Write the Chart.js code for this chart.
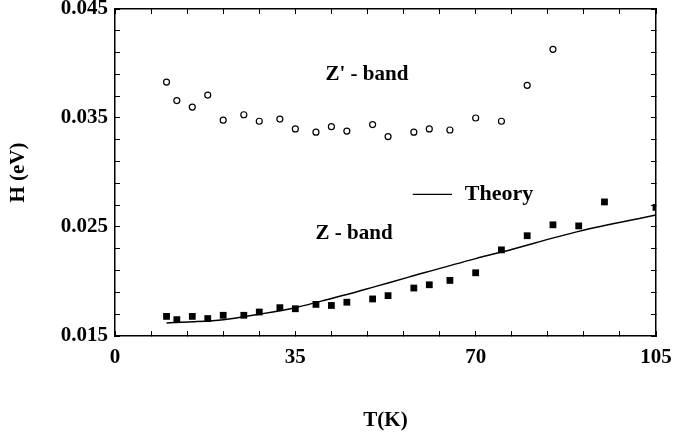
<!DOCTYPE html>
<html>
<head>
<meta charset="utf-8">
<script src="https://cdn.jsdelivr.net/npm/chart.js@4/dist/chart.umd.min.js"></script>
<style>
  html, body { margin: 0; padding: 0; background: #fff; }
  #wrap { width: 673px; height: 435px; position: relative; }
</style>
</head>
<body>
<div id="wrap"><canvas id="c" width="673" height="435"></canvas></div>
<script>
// ---- data ----
const zPrimeT = [10, 12, 15, 18, 21, 25, 28, 32, 35, 39, 42, 45, 50, 53, 58, 61, 65, 70, 75, 80, 85];
const zPrimeH = [0.0383, 0.0366, 0.0360, 0.0371, 0.0348, 0.0353, 0.0347, 0.0349, 0.0340, 0.0337, 0.0342,
                 0.0338, 0.0344, 0.0333, 0.0337, 0.0340, 0.0339, 0.0350, 0.0347, 0.0380, 0.0413];

const zT = [10, 12, 15, 18, 21, 25, 28, 32, 35, 39, 42, 45, 50, 53, 58, 61, 65, 70, 75, 80, 85, 90, 95, 105];
const zH = [0.0168, 0.0165, 0.0168, 0.0166, 0.0169, 0.0169, 0.0172, 0.0176, 0.0175, 0.0179, 0.0178, 0.0181,
            0.0184, 0.0187, 0.0194, 0.0197, 0.0201, 0.0208, 0.0229, 0.0242, 0.0252, 0.0251, 0.0273, 0.0268];

const theoryT = [10, 15, 21, 28, 35, 40, 45, 51, 57, 70, 75, 90, 105];
const theoryH = [0.0162, 0.0163, 0.0165, 0.0170, 0.0176, 0.0182, 0.0188, 0.0196, 0.0204, 0.0221, 0.0227, 0.0246, 0.0261];

const xLabelValues = [0, 35, 70, 105];
const yLabelValues = [0.015, 0.025, 0.035, 0.045];

const textZPrime = "Z' - band";
const textZ = "Z - band";
const textTheory = "Theory";
const xTitle = "T(K)";
const yTitle = "H (eV)";

// ---- chart ----
const FONT = "'Liberation Serif', 'Times New Roman', serif";
const toXY = (xs, ys) => xs.map((x, i) => ({ x: x, y: ys[i] }));

const annotations = {
  id: 'annotations',
  afterDatasetsDraw(chart) {
    const ctx = chart.ctx, xs = chart.scales.x, ys = chart.scales.y;
    ctx.save();
    ctx.fillStyle = '#000';
    ctx.strokeStyle = '#000';
    ctx.font = "bold 21px " + FONT;
    ctx.textBaseline = 'middle';
    ctx.textAlign = 'center';
    ctx.fillText(textZPrime, xs.getPixelForValue(48.9), ys.getPixelForValue(0.0390));
    ctx.fillText(textZ, xs.getPixelForValue(46.4), ys.getPixelForValue(0.0244));
    // theory legend
    ctx.lineWidth = 1.3;
    ctx.beginPath();
    const ly = ys.getPixelForValue(0.0280);
    ctx.moveTo(xs.getPixelForValue(57.8), ly);
    ctx.lineTo(xs.getPixelForValue(65.4), ly);
    ctx.stroke();
    ctx.textAlign = 'left';
    ctx.font = "bold 22px " + FONT;
    ctx.fillText(textTheory, xs.getPixelForValue(67.9), ly);
    ctx.restore();
  }
};

const tickFont = { family: FONT, size: 21, weight: 'bold' };
const titleFont = { family: FONT, size: 21, weight: 'bold' };
const noPad = s => { s.paddingTop = 0; s.paddingBottom = 0; s.paddingLeft = 0; s.paddingRight = 0; };

new Chart(document.getElementById('c'), {
  type: 'scatter',
  data: {
    datasets: [
      {
        label: 'Theory',
        data: toXY(theoryT, theoryH),
        showLine: true,
        borderColor: '#000',
        borderWidth: 1.5,
        pointRadius: 0,
        cubicInterpolationMode: 'monotone',
        fill: false
      },
      {
        label: "Z' - band",
        data: toXY(zPrimeT, zPrimeH),
        showLine: false,
        pointStyle: 'circle',
        pointRadius: 3,
        pointBorderWidth: 1.2,
        pointBorderColor: '#000',
        pointBackgroundColor: '#fff'
      },
      {
        label: 'Z - band',
        data: toXY(zT, zH),
        showLine: false,
        pointStyle: 'rect',
        pointRadius: 4.8,
        pointBorderWidth: 0,
        pointBorderColor: '#000',
        pointBackgroundColor: '#000'
      }
    ]
  },
  options: {
    responsive: false,
    animation: false,
    layout: { padding: { top: 9, right: 17, left: 0, bottom: 0 } },
    plugins: { legend: { display: false }, tooltip: { enabled: false } },
    scales: {
      x: {
        type: 'linear', position: 'bottom', min: 0, max: 105,
        ticks: {
          stepSize: 7, autoSkip: false, maxRotation: 0, color: '#000', font: tickFont, padding: 14,
          callback: v => xLabelValues.some(l => Math.abs(l - v) < 1e-9) ? String(v) : ''
        },
        grid: { display: true, drawOnChartArea: false, drawTicks: true, tickLength: -5, color: '#000', lineWidth: 1 },
        border: { display: true, color: '#000', width: 1.5 },
        title: { display: true, text: xTitle, color: '#000', font: titleFont, padding: { top: 0, bottom: 2 } },
        afterFit: s => { s.height = 99; noPad(s); }
      },
      x2: {
        type: 'linear', axis: 'x', position: 'top', min: 0, max: 105,
        ticks: { stepSize: 7, autoSkip: false, display: false },
        grid: { display: true, drawOnChartArea: false, drawTicks: true, tickLength: -5, color: '#000', lineWidth: 1 },
        border: { display: true, color: '#000', width: 1.5 },
        afterFit: s => { s.height = 0; noPad(s); }
      },
      y: {
        type: 'linear', position: 'left', min: 0.015, max: 0.045,
        ticks: {
          stepSize: 0.002, autoSkip: false, color: '#000', font: tickFont, padding: 12,
          callback: v => yLabelValues.some(l => Math.abs(l - v) < 1e-7) ? v.toFixed(3) : ''
        },
        grid: { display: true, drawOnChartArea: false, drawTicks: true, tickLength: -5, color: '#000', lineWidth: 1 },
        border: { display: true, color: '#000', width: 1.5 },
        title: { display: true, text: yTitle, color: '#000', font: titleFont, padding: { top: 6, bottom: 0 } },
        afterFit: s => { s.width = 115; noPad(s); }
      },
      y2: {
        type: 'linear', axis: 'y', position: 'right', min: 0.015, max: 0.045,
        ticks: { stepSize: 0.002, autoSkip: false, display: false },
        grid: { display: true, drawOnChartArea: false, drawTicks: true, tickLength: -5, color: '#000', lineWidth: 1 },
        border: { display: true, color: '#000', width: 1.5 },
        afterFit: s => { s.width = 0; noPad(s); }
      }
    }
  },
  plugins: [annotations]
});
</script>
</body>
</html>
